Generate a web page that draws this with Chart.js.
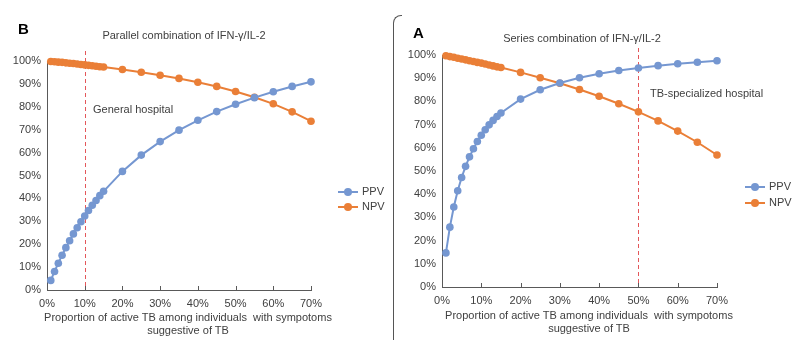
<!DOCTYPE html>
<html>
<head>
<meta charset="utf-8">
<script src="https://cdn.jsdelivr.net/npm/chart.js@4.4.0/dist/chart.umd.min.js"></script>
<style>
  body { margin: 0; background: #fff; font-family: "Liberation Sans", Arial, sans-serif; }
  #page { position: relative; width: 800px; height: 340px; overflow: hidden; }
  .panel { position: absolute; top: 0; height: 340px; }
  .txt { position: absolute; white-space: nowrap; color: #404040; font-size: 11px; }
  .letter { position: absolute; font-weight: bold; font-size: 15px; color: #000; }
  .ctr { transform: translateX(-50%); text-align: center; }
  .frame { position: absolute; left: 393px; top: 15px; width: 8px; height: 330px;
           border-left: 1px solid #555; border-top: 1px solid #555; border-top-left-radius: 8px; }
  .leg { position: absolute; font-size: 11px; color: #404040; }
  .leg span.sw { position: absolute; left: 0; top: 6px; width: 20px; height: 2px; }
  .leg span.dot { position: absolute; left: 6px; top: 3px; width: 8px; height: 8px; border-radius: 50%; }
  .leg span.lb { position: absolute; left: 24px; top: 0; }
</style>
</head>
<body>
<div id="page">
  <div class="panel" style="left:0;width:395px"><canvas id="chartB"></canvas></div>
  <div class="panel" style="left:400px;width:400px"><canvas id="chartA"></canvas></div>
  <div class="frame"></div>

  <div class="letter" style="left:18px;top:20px">B</div>
  <div class="txt ctr" style="left:184px;top:29px">Parallel combination of IFN-γ/IL-2</div>
  <div class="txt" style="left:93px;top:103px">General hospital</div>
  <div class="txt ctr" style="left:188px;top:311px;line-height:13px">Proportion of active TB among individuals&nbsp; with sympotoms<br>suggestive of TB</div>

  <div class="letter" style="left:413px;top:24px">A</div>
  <div class="txt ctr" style="left:582px;top:32px">Series combination of IFN-γ/IL-2</div>
  <div class="txt" style="left:650px;top:87px">TB-specialized hospital</div>
  <div class="txt ctr" style="left:589px;top:309px;line-height:13px">Proportion of active TB among individuals&nbsp; with sympotoms<br>suggestive of TB</div>

  <div class="leg" style="left:338px;top:185px"><span class="sw" style="background:#7597d1"></span><span class="dot" style="background:#7597d1"></span><span class="lb">PPV</span></div>
  <div class="leg" style="left:338px;top:200px"><span class="sw" style="background:#ea7f37"></span><span class="dot" style="background:#ea7f37"></span><span class="lb">NPV</span></div>
  <div class="leg" style="left:745px;top:180px"><span class="sw" style="background:#7597d1"></span><span class="dot" style="background:#7597d1"></span><span class="lb">PPV</span></div>
  <div class="leg" style="left:745px;top:196px"><span class="sw" style="background:#ea7f37"></span><span class="dot" style="background:#ea7f37"></span><span class="lb">NPV</span></div>
</div>

<script>
// proportion of active TB (%)
const prevalence = [1, 2, 3, 4, 5, 6, 7, 8, 9, 10, 11, 12, 13, 14, 15,
                    20, 25, 30, 35, 40, 45, 50, 55, 60, 65, 70];

// parallel combination (panel B)
const ppvParallel = [4.2, 8.1, 11.7, 15.2, 18.5, 21.5, 24.5, 27.2, 29.8, 32.3, 34.7, 37.0, 39.1, 41.2, 43.1,
                     51.8, 58.9, 64.8, 69.8, 74.1, 77.9, 81.1, 84.0, 86.6, 88.9, 90.9];
const npvParallel = [99.8, 99.7, 99.5, 99.4, 99.2, 99.0, 98.9, 98.7, 98.5, 98.3, 98.1, 97.9, 97.7, 97.5, 97.4,
                     96.3, 95.1, 93.8, 92.4, 90.7, 88.9, 86.7, 84.2, 81.3, 77.8, 73.7];

// series combination (panel A)
const ppvSeries = [14.7, 25.8, 34.5, 41.5, 47.2, 52.0, 56.1, 59.6, 62.7, 65.4, 67.8, 69.9, 71.8, 73.5, 75.0,
                   81.0, 85.0, 87.9, 90.2, 91.9, 93.3, 94.4, 95.4, 96.2, 96.9, 97.5];
const npvSeries = [99.7, 99.3, 99.0, 98.6, 98.3, 97.9, 97.5, 97.2, 96.8, 96.5, 96.1, 95.7, 95.3, 94.9, 94.6,
                   92.5, 90.2, 87.8, 85.1, 82.2, 79.0, 75.5, 71.6, 67.2, 62.4, 56.9];

const BLUE = "#7597d1";
const ORANGE = "#ea7f37";
const AXIS = "#595959";
const LABEL = "#404040";

function pts(ys) {
    return prevalence.map((x, i) => ({ x: x, y: ys[i] }));
}

// dashed cut-off line + inward x ticks
const overlay = {
    id: "overlay",
    beforeDatasetsDraw(chart, args, opts) {
        const c = chart.ctx, area = chart.chartArea, xs = chart.scales.x;
        const px = Math.round(xs.getPixelForValue(opts.cutoff)) + 0.5;
        c.save();
        c.strokeStyle = "#e4575a";
        c.lineWidth = 1;
        c.setLineDash([4, 3]);
        c.beginPath();
        c.moveTo(px, area.top - opts.above);
        c.lineTo(px, area.bottom);
        c.stroke();
        c.setLineDash([]);
        c.strokeStyle = AXIS;
        c.beginPath();
        for (let v = 10; v <= 70; v += 10) {
            const tx = Math.round(xs.getPixelForValue(v)) + 0.5;
            c.moveTo(tx, area.bottom);
            c.lineTo(tx, area.bottom - 4);
        }
        c.stroke();
        c.restore();
    }
};

function makeChart(id, ppv, npv, cfg) {
    const ctx = document.getElementById(id).getContext("2d");
    return new Chart(ctx, {
        type: "line",
        data: {
            datasets: [
                { label: "PPV", data: pts(ppv), borderColor: BLUE, backgroundColor: BLUE,
                  borderWidth: 2, pointRadius: 3.8, pointBorderWidth: 0, tension: 0, clip: false },
                { label: "NPV", data: pts(npv), borderColor: ORANGE, backgroundColor: ORANGE,
                  borderWidth: 2, pointRadius: 3.8, pointBorderWidth: 0, tension: 0, clip: false }
            ]
        },
        options: {
            responsive: true,
            maintainAspectRatio: false,
            animation: false,
            layout: { padding: { left: 0, right: cfg.right, top: cfg.top, bottom: 0 } },
            plugins: {
                legend: { display: false },
                tooltip: { enabled: false },
                overlay: { cutoff: cfg.cutoff, above: cfg.above }
            },
            scales: {
                x: {
                    type: "linear", min: 0, max: 70,
                    grid: { drawOnChartArea: false, drawTicks: false },
                    border: { color: AXIS, width: 1 },
                    ticks: { stepSize: 10, padding: 7, color: LABEL, maxRotation: 0,
                             font: { family: "Liberation Sans", size: 11 },
                             callback: v => v + "%" },
                    afterFit: s => { s.height = cfg.xh; }
                },
                y: {
                    min: 0, max: 100,
                    grid: { drawOnChartArea: false, drawTicks: false },
                    border: { color: AXIS, width: 1 },
                    ticks: { stepSize: 10, padding: 6, color: LABEL,
                             font: { family: "Liberation Sans", size: 11 },
                             callback: v => v + "%" },
                    afterFit: s => { s.width = cfg.yw; }
                }
            }
        },
        plugins: [overlay]
    });
}

makeChart("chartB", ppvParallel, npvParallel, { right: 84, top: 61, xh: 50, yw: 47, cutoff: 10, above: 10 });
makeChart("chartA", ppvSeries, npvSeries, { right: 83, top: 55, xh: 53, yw: 42, cutoff: 50, above: 7 });
</script>
</body>
</html>
